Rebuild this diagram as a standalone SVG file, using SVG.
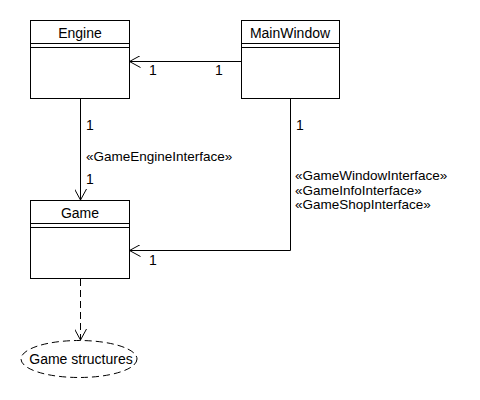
<svg xmlns="http://www.w3.org/2000/svg" width="480" height="400" viewBox="0 0 480 400">
<style>
text{font-family:"Liberation Sans",Arial,sans-serif;font-size:14px;fill:#000}
.st{font-size:13.5px}
.box{fill:#fff;stroke:#000;stroke-width:1}
.ln{fill:none;stroke:#000;stroke-width:1}
.t{text-anchor:middle}
</style>
<defs>
<marker id="open" viewBox="0 0 12 12" refX="11" refY="6" markerWidth="12" markerHeight="12" markerUnits="userSpaceOnUse" orient="auto">
<path d="M0,0 L11,6 L0,12" fill="none" stroke="#000" stroke-width="1"/>
</marker>
</defs>
<rect width="480" height="400" fill="#fff"/>
<g id="connectors">
<line class="ln" x1="241" y1="61.5" x2="129.5" y2="61.5" marker-end="url(#open)"/>
<line class="ln" x1="80.5" y1="98" x2="80.5" y2="200" marker-end="url(#open)"/>
<polyline class="ln" points="290.5,98 290.5,250.5 129.5,250.5" marker-end="url(#open)"/>
<line class="ln" x1="80.5" y1="279" x2="80.5" y2="340" stroke-dasharray="7,4" marker-end="url(#open)"/>
<text x="149" y="75">1</text>
<text x="215" y="75">1</text>
<text x="86" y="130">1</text>
<text class="st" x="86" y="161">«GameEngineInterface»</text>
<text x="86" y="184">1</text>
<text x="296" y="130">1</text>
<text class="st" x="295" y="180">«GameWindowInterface»</text>
<text class="st" x="295" y="194.5">«GameInfoInterface»</text>
<text class="st" x="295" y="209">«GameShopInterface»</text>
<text x="149" y="265">1</text>
</g>
<g id="engine">
<rect class="box" x="30.5" y="20.5" width="99" height="78"/>
<line class="ln" x1="30.5" y1="43.5" x2="129.5" y2="43.5"/>
<line class="ln" x1="30.5" y1="47.5" x2="129.5" y2="47.5"/>
<text class="t" x="80" y="38">Engine</text>
</g>
<g id="mainwindow">
<rect class="box" x="241.5" y="20.5" width="98" height="78"/>
<line class="ln" x1="241.5" y1="43.5" x2="339.5" y2="43.5"/>
<line class="ln" x1="241.5" y1="47.5" x2="339.5" y2="47.5"/>
<text class="t" x="290" y="38">MainWindow</text>
</g>
<g id="game">
<rect class="box" x="30.5" y="200.5" width="99" height="78"/>
<line class="ln" x1="30.5" y1="223.5" x2="129.5" y2="223.5"/>
<line class="ln" x1="30.5" y1="227.5" x2="129.5" y2="227.5"/>
<text class="t" x="80" y="218">Game</text>
</g>
<g id="gamestructures">
<ellipse cx="79" cy="359" rx="58" ry="18.5" fill="#fff" stroke="#000" stroke-dasharray="7,4"/>
<text class="t" x="81" y="364">Game structures</text>
</g>
</svg>
